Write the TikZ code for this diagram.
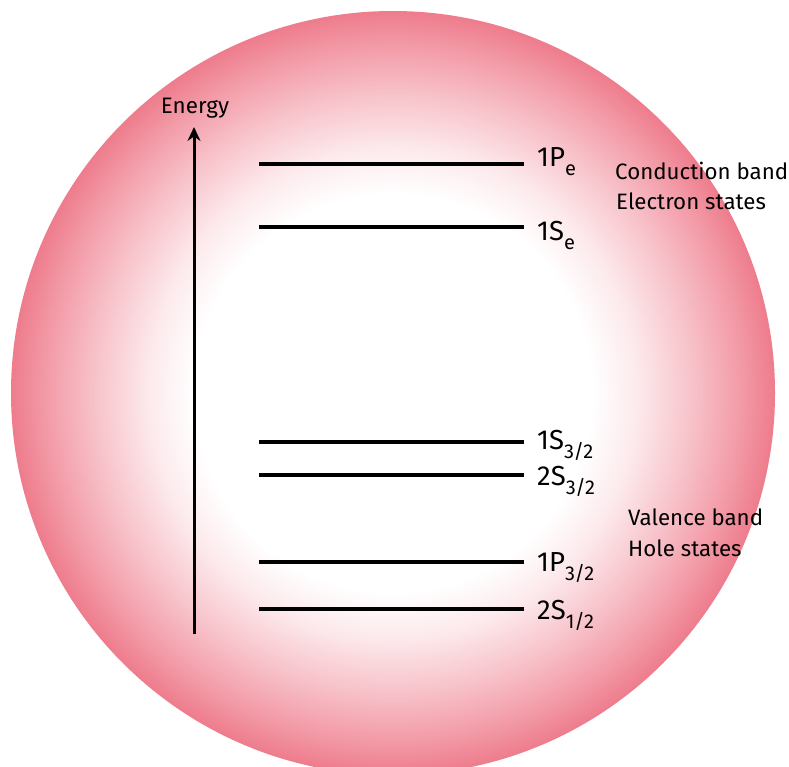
\documentclass[tikz,border=0pt]{standalone}
\usepackage{fontspec}
\setmainfont{Fira Sans}
\usetikzlibrary{arrows.meta}
\definecolor{pinkedge}{RGB}{238,124,140}
\definecolor{pinkmid}{RGB}{243,158,170}
\pgfdeclareradialshading{dotglow}{\pgfpoint{0bp}{0bp}}{color(0bp)=(white); color(13bp)=(white); color(16bp)=(pinkmid!22!white); color(19.5bp)=(pinkmid!62!white); color(22.5bp)=(pinkmid); color(25bp)=(pinkedge); color(50bp)=(pinkedge)}
\newcommand{\lowsub}[1]{\raisebox{-9pt}{\fontsize{20}{20}\selectfont #1}}
\tikzset{
  level/.style={line width=3.2pt, black},
  lvlabel/.style={anchor=base west, inner sep=0pt, font=\fontsize{27.5}{27.5}\selectfont},
  bandlabel/.style={anchor=base west, inner sep=0pt, font=\fontsize{22.3}{22.3}\selectfont},
  axis/.style={line width=3pt, -{Stealth[length=14pt,width=13pt]}}
}
\begin{document}
\begin{tikzpicture}[x=1pt,y=-1pt]
\useasboundingbox (0,0) rectangle (789,766);
\clip (0,0) rectangle (789,766);
\fill[white] (0,0) rectangle (789,766);
\shade[shading=dotglow] (393,393) circle [radius=382pt];
% energy axis
\coordinate (ab) at (194,634);
\coordinate (at) at (194,127);
\draw[axis] (ab) -- (at);
\node[anchor=base, inner sep=0pt, font=\fontsize{22.4}{22.4}\selectfont] (energy) at (195,113) {Energy};
% levels
\foreach \nm/\yy in {pe/164, se/227, sa/442, sb/475, pa/562, sc/609}{
  \coordinate (\nm L) at (259,\yy);
  \coordinate (\nm R) at (524,\yy);
  \draw[level] (\nm L) -- (\nm R);
}
\node[lvlabel] (lpe) at (537,166) {1P\lowsub{e}};
\node[lvlabel] (lse) at (537,240) {1S\lowsub{e}};
\node[lvlabel] (lsa) at (537,449) {1S\lowsub{3/2}};
\node[lvlabel] (lsb) at (537,485) {2S\lowsub{3/2}};
\node[lvlabel] (lpa) at (537,571) {1P\lowsub{3/2}};
\node[lvlabel] (lsc) at (537,619) {2S\lowsub{1/2}};
% band labels
\node[bandlabel] (cb) at (615,179) {Conduction band};
\node[bandlabel] (es) at (616,209) {Electron states};
\node[bandlabel] (vb) at (628,525) {Valence band};
\node[bandlabel] (hs) at (628,556) {Hole states};
\end{tikzpicture}
\end{document}
